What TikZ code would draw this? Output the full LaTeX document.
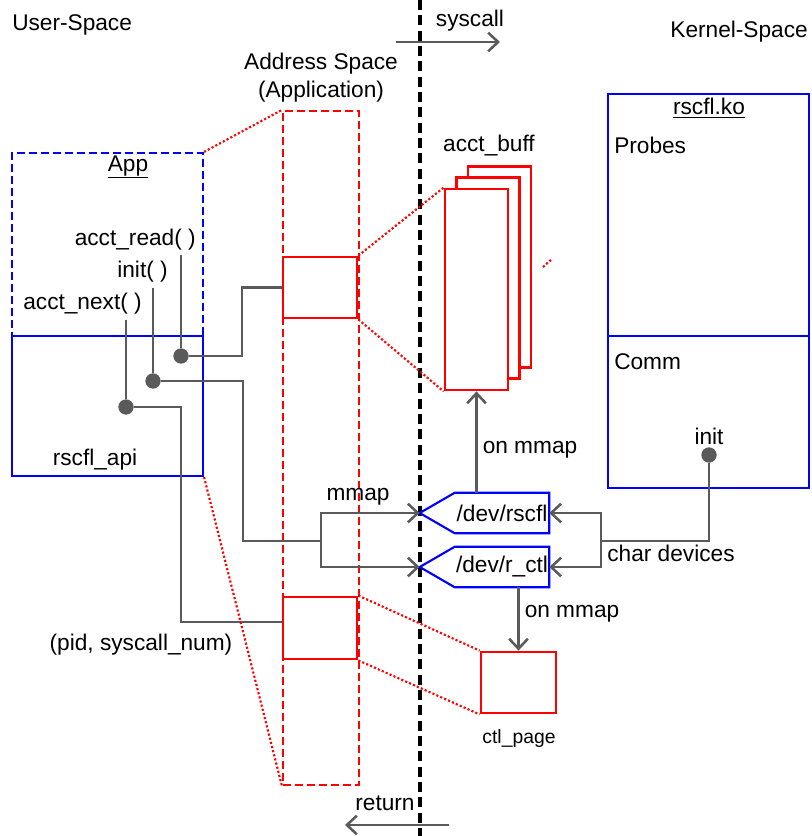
\documentclass[tikz,border=0pt]{standalone}
\usepackage{fontspec}
\setmainfont{Liberation Sans}
\usetikzlibrary{arrows.meta, calc}
\definecolor{linegray}{HTML}{5A5A5A}
\definecolor{boxred}{HTML}{FF0000}
\definecolor{boxblue}{HTML}{0000FF}

\begin{document}
\begin{tikzpicture}[x=0.75pt, y=-0.75pt,
    every node/.style={font=\fontsize{17}{21}\selectfont, inner sep=0pt},
    redbox/.style={draw=boxred, line width=2.1pt, fill=white},
    reddash/.style={draw=boxred, line width=1.6pt, dash pattern=on 6pt off 3pt},
    bluebox/.style={draw=boxblue, line width=1.6pt},
    bluedash/.style={draw=boxblue, line width=1.6pt, dash pattern=on 6pt off 3pt},
    reddots/.style={draw=boxred, line width=1.6pt, dash pattern=on 1.6pt off 1.6pt},
    conn/.style={draw=linegray, line width=1.9pt},
    arr/.style={-{Straight Barb[length=7.5pt, width=14pt]}},
    joint/.style={circle, fill=linegray, minimum size=11.5pt}]
  \useasboundingbox (0,0) rectangle (811,836);

  % user / kernel border
  \coordinate (bordertop) at (420,0);
  \coordinate (borderbot) at (420,836);
  \draw[black, line width=2.4pt, dash pattern=on 7.5pt off 4pt] (bordertop) -- (borderbot);
  \node[anchor=west] (userspace) at (12,25) {User-Space};
  \node[anchor=east] (kernelspace) at (808,32) {Kernel-Space};
  \coordinate (sysfrom) at (396,42);
  \coordinate (systo) at (500,42);
  \draw[conn, arr] (sysfrom) -- (systo);
  \node (syscall) at (470,21) {syscall};
  \coordinate (retfrom) at (449,825);
  \coordinate (retto) at (345,825);
  \draw[conn, arr] (retfrom) -- (retto);
  \node (return) at (385,803) {return};

  % address space of the application
  \node[align=center] (addrlabel) at (321,78) {Address Space\\(Application)};
  \node[reddash, minimum width=57pt, minimum height=505.5pt] (addr) at (321,448) {};
  \node[redbox, minimum width=55.5pt, minimum height=45.75pt] (slotbuf) at (320,287.5) {};
  \node[redbox, minimum width=55.5pt, minimum height=46.5pt] (slotctl) at (320,628) {};

  % application and its library
  \node[bluedash, minimum width=143.25pt, minimum height=137.25pt] (app) at (107.5,244.5) {};
  \node[bluebox, minimum width=143.25pt, minimum height=105pt] (api) at (107.5,406) {};
  \node (applabel) at (128,167) {\underline{App}};
  \node (apilabel) at (95,460) {rscfl\_api};
  \node[anchor=east] (readlabel) at (196,240) {acct\_read( )};
  \node[anchor=east] (initlabel) at (168,272) {init( )};
  \node[anchor=east] (nextlabel) at (142,304) {acct\_next( )};
  \node (pidlabel) at (141,645) {(pid, syscall\_num)};

  \coordinate (readtop) at (181,255);
  \coordinate (inittop) at (153,288);
  \coordinate (nexttop) at (126,320);
  \node[joint] (readdot) at (181,356) {};
  \node[joint] (initdot) at (153,381) {};
  \node[joint] (nextdot) at (126,407) {};
  \draw[conn] (readtop) -- (readdot);
  \draw[conn] (inittop) -- (initdot);
  \draw[conn] (nexttop) -- (nextdot);
  \draw[conn] (readdot) -- ++(61,0) |- (slotbuf.west);
  \draw[conn] (nextdot) -- ++(55,0) |- ([yshift=4.5pt]slotctl.west);

  % kernel buffers
  \node[redbox, minimum width=47.25pt, minimum height=150.75pt] (bufback) at (499.5,267) {};
  \node[redbox, minimum width=47.25pt, minimum height=150.75pt] (bufmid) at (488,278) {};
  \node[redbox, minimum width=47.25pt, minimum height=150.75pt] (buffront) at (476.5,289.5) {};
  \node (buflabel) at (489,146) {acct\_buff};
  \node[redbox, minimum width=56.25pt, minimum height=45.75pt] (ctlpage) at (518.5,682.5) {};
  \node[font=\fontsize{14.5}{17}\selectfont] (ctllabel) at (519,738) {ctl\_page};

  % mappings
  \draw[reddots] (app.north east) -- (addr.north west);
  \draw[reddots] (api.south east) -- (addr.south west);
  \draw[reddots] (slotbuf.north east) -- (buffront.north west);
  \draw[reddots] (slotbuf.south east) -- (buffront.south west);
  \draw[reddots] (slotctl.north east) -- (ctlpage.north west);
  \draw[reddots] (slotctl.south east) -- (ctlpage.south west);
  \draw[reddots] (543,267) -- (552,259);

  % char devices
  \node[minimum width=70.5pt, minimum height=30pt] (devrscfl) at (502,513) {/dev/rscfl};
  \node[minimum width=70.5pt, minimum height=30pt] (devctl) at (502,567) {/dev/r\_ctl};
  \coordinate (rscfltip) at ([xshift=-26.25pt]devrscfl.west);
  \coordinate (ctltip) at ([xshift=-26.25pt]devctl.west);
  \draw[bluebox] (devrscfl.north west) -- (devrscfl.north east) -- (devrscfl.south east)
    -- (devrscfl.south west) -- (rscfltip) -- cycle;
  \draw[bluebox] (devctl.north west) -- (devctl.north east) -- (devctl.south east)
    -- (devctl.south west) -- (ctltip) -- cycle;

  \coordinate (mmapfork) at (321,541);
  \draw[conn] (initdot) -- ++(90,0) |- (mmapfork);
  \draw[conn, arr] (mmapfork) |- (rscfltip);
  \draw[conn, arr] (mmapfork) |- (ctltip);
  \node (mmaplabel) at (358,497) {mmap};

  \draw[conn, arr] (devrscfl.north -| buffront) -- (buffront.south);
  \node (onmmapbuf) at (530,450) {on mmap};
  \draw[conn, arr] (devctl.south -| ctlpage) -- (ctlpage.north);
  \node (onmmapctl) at (572,614) {on mmap};

  % kernel module
  \node[bluebox, minimum width=150.75pt, minimum height=181.5pt] (probes) at (708.5,215) {};
  \node[bluebox, minimum width=150.75pt, minimum height=114pt] (comm) at (708.5,412) {};
  \node (kolabel) at (709,108) {\underline{rscfl.ko}};
  \node[anchor=west] (probelabel) at (614,145) {Probes};
  \node[anchor=west] (commlabel) at (614,362) {Comm};
  \node (kinitlabel) at (709,436) {init};
  \node[joint] (kinitdot) at (709,455) {};
  \coordinate (charfork) at (601,541);
  \draw[conn] (kinitdot) |- (charfork);
  \draw[conn, arr] (charfork) |- (devrscfl.east);
  \draw[conn, arr] (charfork) |- (devctl.east);
  \node (charlabel) at (671,553) {char devices};
\end{tikzpicture}
\end{document}
